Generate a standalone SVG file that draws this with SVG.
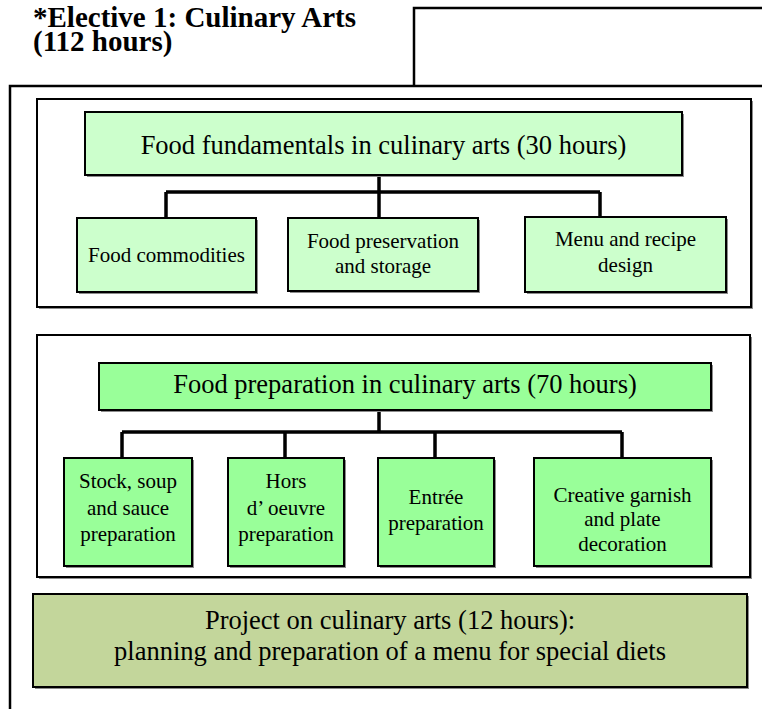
<svg xmlns="http://www.w3.org/2000/svg" width="762" height="709" viewBox="0 0 762 709">
<style>
.frame{fill:none;stroke:#000;stroke-width:2.5}
.panel{fill:#fff;stroke:#000;stroke-width:2}
.shadow{fill:#8c8c8c}
.n1{fill:#ccffcc;stroke:#000;stroke-width:2}
.n2{fill:#99ff99;stroke:#000;stroke-width:2}
.n3{fill:#c3d69b;stroke:#000;stroke-width:2}
.big{font-size:26.5px;fill:#000;text-anchor:middle}
.small{font-size:21px;fill:#000;text-anchor:middle}
.title{font-size:29px;font-weight:bold;fill:#000}
.conn{fill:none;stroke:#000;stroke-width:3.5}
</style>
<g font-family="'Liberation Serif', 'Times New Roman', 'DejaVu Serif', serif">
<g id="title">
<text class="title" x="33" y="27">*Elective 1: Culinary Arts<tspan x="33" dy="24">(112 hours)</tspan></text>
</g>
<g id="frames">
<path class="frame" d="M414,86 V8 H762"/>
<path class="frame" d="M10,709 V86 H762"/>
</g>
<g id="panel1">
<rect class="shadow" x="39" y="101" width="714" height="208"/>
<rect class="panel" x="37" y="99" width="714" height="208"/>
</g>
<g id="panel2">
<rect class="shadow" x="39" y="337" width="713" height="242"/>
<rect class="panel" x="37" y="335" width="713" height="242"/>
</g>
<g id="connectors">
<path class="conn" d="M379,175 V218 M166,192 H600 M166,192 V218 M600,192 V217"/>
<path class="conn" d="M379,410 V432 M122,432 H622 M122,432 V458 M285,432 V458 M435,432 V458 M622,432 V458"/>
</g>
<g id="food-fundamentals">
<rect class="shadow" x="87" y="114" width="597" height="63"/>
<rect class="n1" x="85" y="112" width="597" height="63"/>
<text class="big" x="383.5" y="154">Food fundamentals in culinary arts (30 hours)</text>
</g>
<g id="food-commodities">
<rect class="shadow" x="79" y="220" width="179" height="74"/>
<rect class="n1" x="77" y="218" width="179" height="74"/>
<text class="small" x="166.5" y="262">Food commodities</text>
</g>
<g id="food-preservation">
<rect class="shadow" x="290" y="220" width="190" height="73"/>
<rect class="n1" x="288" y="218" width="190" height="73"/>
<text class="small" x="383" y="248">Food preservation</text>
<text class="small" x="383" y="273">and storage</text>
</g>
<g id="menu-recipe">
<rect class="shadow" x="527" y="219" width="201" height="75"/>
<rect class="n1" x="525" y="217" width="201" height="75"/>
<text class="small" x="625.5" y="246">Menu and recipe</text>
<text class="small" x="625.5" y="272">design</text>
</g>
<g id="food-preparation">
<rect class="shadow" x="101" y="365" width="612" height="47"/>
<rect class="n2" x="99" y="363" width="612" height="47"/>
<text class="big" x="405" y="393">Food preparation in culinary arts (70 hours)</text>
</g>
<g id="stock-soup">
<rect class="shadow" x="66" y="460" width="128" height="108"/>
<rect class="n2" x="64" y="458" width="128" height="108"/>
<text class="small" x="128" y="488">Stock, soup</text>
<text class="small" x="128" y="515">and sauce</text>
<text class="small" x="128" y="541">preparation</text>
</g>
<g id="hors-doeuvre">
<rect class="shadow" x="230" y="460" width="116" height="108"/>
<rect class="n2" x="228" y="458" width="116" height="108"/>
<text class="small" x="286" y="488">Hors</text>
<text class="small" x="286" y="515">d’ oeuvre</text>
<text class="small" x="286" y="541">preparation</text>
</g>
<g id="entree">
<rect class="shadow" x="380" y="460" width="116" height="108"/>
<rect class="n2" x="378" y="458" width="116" height="108"/>
<text class="small" x="436" y="504">Entrée</text>
<text class="small" x="436" y="530">preparation</text>
</g>
<g id="creative-garnish">
<rect class="shadow" x="536" y="460" width="177" height="108"/>
<rect class="n2" x="534" y="458" width="177" height="108"/>
<text class="small" x="622.5" y="502">Creative garnish</text>
<text class="small" x="622.5" y="526">and plate</text>
<text class="small" x="622.5" y="551">decoration</text>
</g>
<g id="project">
<rect class="shadow" x="35" y="596" width="714" height="93"/>
<rect class="n3" x="33" y="594" width="714" height="93"/>
<text class="big" x="390" y="629">Project on culinary arts (12 hours):</text>
<text class="big" x="390" y="660">planning and preparation of a menu for special diets</text>
</g>
</g>
</svg>
